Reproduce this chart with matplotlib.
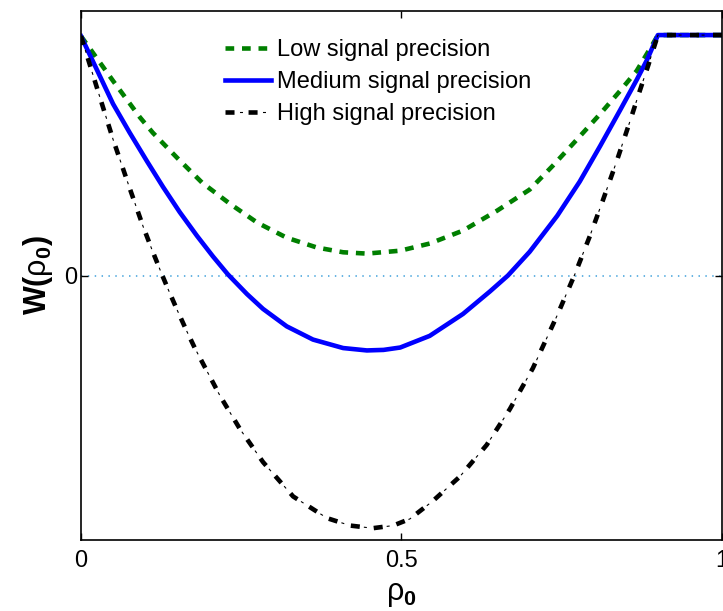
import matplotlib
matplotlib.use('Agg')
import matplotlib.pyplot as plt

plt.rcParams['font.family'] = ['Liberation Sans', 'DejaVu Sans']
plt.rcParams['mathtext.fontset'] = 'custom'
plt.rcParams['mathtext.rm'] = 'Liberation Sans'
plt.rcParams['mathtext.it'] = 'Liberation Sans'
plt.rcParams['mathtext.bf'] = 'Liberation Sans:bold'

# values
low_x = [0.0, 0.05, 0.092, 0.112, 0.150, 0.189, 0.232, 0.275, 0.321, 0.368, 0.409, 0.446,
         0.498, 0.544, 0.596, 0.649, 0.700, 0.736, 0.774, 0.810, 0.841, 0.867, 0.892, 0.900, 1.0]
low_y = [0.905, 0.736, 0.598, 0.540, 0.445, 0.351, 0.272, 0.200, 0.143, 0.106, 0.088, 0.083,
         0.094, 0.121, 0.170, 0.245, 0.325, 0.415, 0.515, 0.611, 0.698, 0.774, 0.875, 0.909, 0.909]

med_x = [0.0, 0.05, 0.076, 0.103, 0.128, 0.154, 0.181, 0.206, 0.229, 0.259, 0.284, 0.321,
         0.362, 0.409, 0.446, 0.472, 0.498, 0.544, 0.596, 0.638, 0.666, 0.700, 0.743, 0.778,
         0.810, 0.841, 0.867, 0.883, 0.900, 1.0]
med_y = [0.905, 0.649, 0.540, 0.432, 0.335, 0.240, 0.150, 0.072, 0.005, -0.070, -0.126, -0.192,
         -0.242, -0.274, -0.283, -0.281, -0.272, -0.228, -0.145, -0.060, 0.0, 0.090, 0.226,
         0.355, 0.490, 0.625, 0.740, 0.815, 0.909, 0.909]

high_x = [0.0, 0.030, 0.05, 0.076, 0.097, 0.112, 0.127, 0.136, 0.150, 0.165, 0.178, 0.217,
          0.248, 0.284, 0.331, 0.384, 0.420, 0.455, 0.487, 0.513, 0.549, 0.591, 0.633, 0.669,
          0.705, 0.743, 0.771, 0.794, 0.814, 0.836, 0.856, 0.872, 0.885, 0.900, 1.0]
high_y = [0.905, 0.670, 0.515, 0.330, 0.185, 0.090, 0.0, -0.052, -0.130, -0.210, -0.276, -0.455,
          -0.580, -0.705, -0.835, -0.917, -0.945, -0.955, -0.945, -0.920, -0.852, -0.760, -0.640,
          -0.505, -0.350, -0.150, 0.008, 0.150, 0.283, 0.434, 0.580, 0.700, 0.795, 0.909, 0.909]

labels = ['Low signal precision', 'Medium signal precision', 'High signal precision']

fig = plt.figure(figsize=(7.23, 6.11), dpi=100)
ax = fig.add_axes([0.112, 0.116, 0.8866, 0.866])

ax.axhline(0, color='#5aaee0', linestyle=(0, (0.8, 3.0)), linewidth=1.3, zorder=1)
l1, = ax.plot(low_x, low_y, color='#007f00', linestyle=(0, (1.9, 1.7)), linewidth=3.3)
l2, = ax.plot(med_x, med_y, color='#0000ff', linestyle='-', linewidth=3.3)
# dash-dot drawn as thick dashes plus thin marks in the gaps
l3, = ax.plot(high_x, high_y, color='black', linestyle=(0, (1.97, 3.06)), linewidth=3.3)
l3b, = ax.plot(high_x, high_y, color='black', linestyle=(7.66, (2.7, 18.0)), linewidth=0.8)

ax.set_xlim(0, 1)
ax.set_ylim(-1, 1)
ax.set_xticks([0, 0.5, 1])
ax.set_xticklabels(['0', '0.5', '1'])
ax.set_yticks([0])
ax.tick_params(direction='in', top=True, right=True, labelsize=17, length=5, width=1)
ax.tick_params(axis='x', pad=7)
ax.tick_params(axis='y', pad=3)
for s in ax.spines.values():
    s.set_linewidth(1.2)

ax.set_xlabel(r'$\rho_{\mathbf{0}}$', fontsize=22, labelpad=5)
ax.set_ylabel(r'$\mathbf{W(}\rho_{\mathbf{0}}\mathbf{)}$', fontsize=22, labelpad=6)

ax.legend([l1, l2, (l3, l3b)], labels, loc='upper left', bbox_to_anchor=(0.2246, 0.947),
          frameon=False, fontsize=17, handlelength=1.95, handletextpad=0.25,
          labelspacing=0.42, borderaxespad=0, borderpad=0)

fig.savefig('out.png', dpi=100)
